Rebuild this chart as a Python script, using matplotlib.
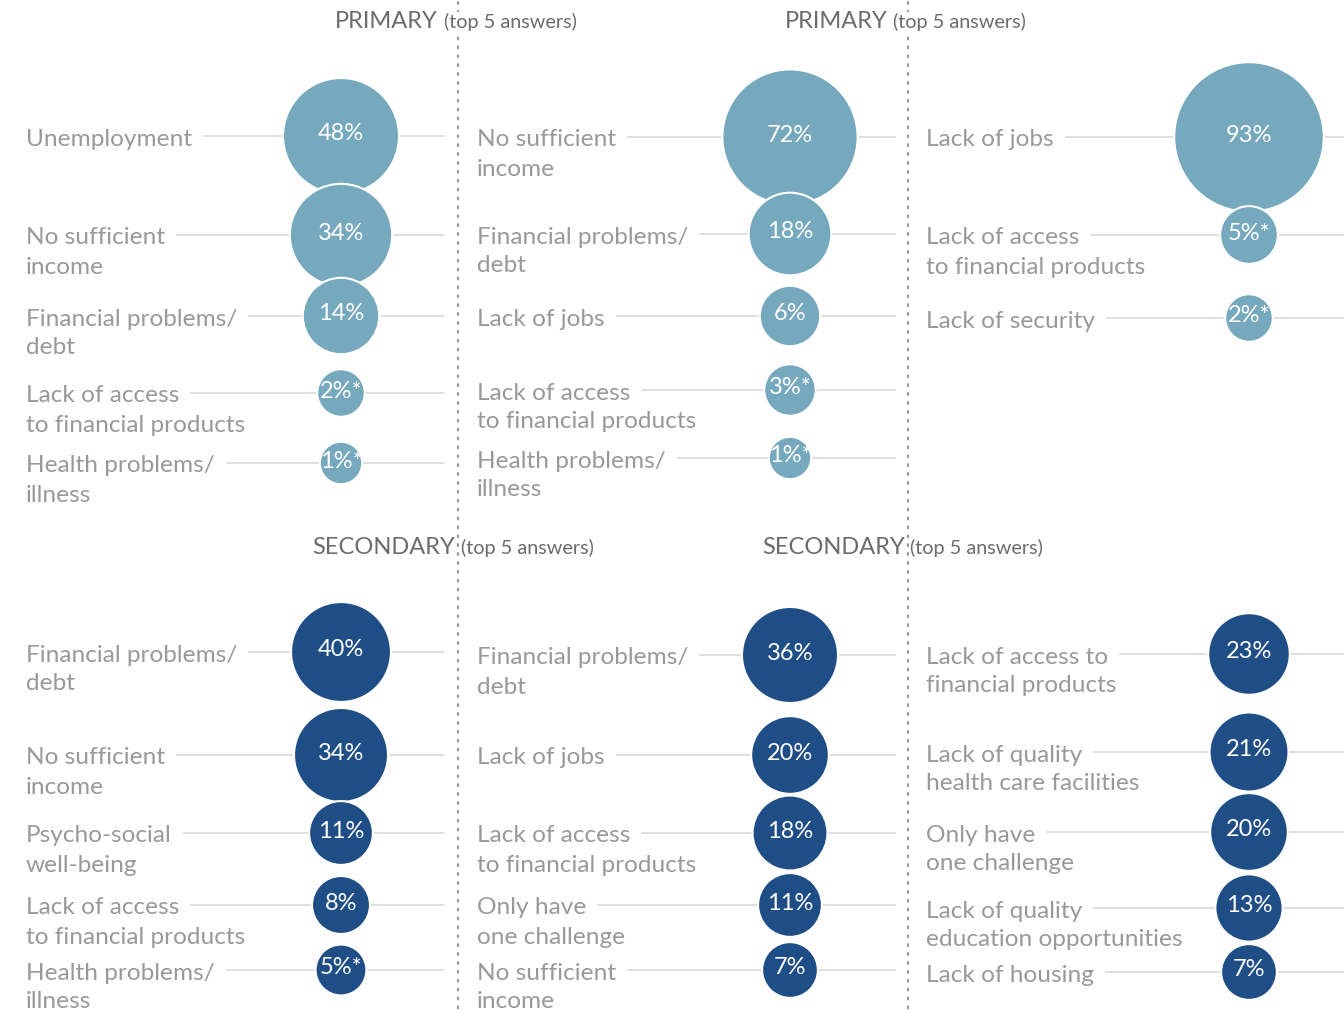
import matplotlib.pyplot as plt
from matplotlib.patches import Circle
import numpy as np

plt.rcParams['font.family'] = ['Lato', 'DejaVu Sans']

# --- data ---
p1_labels = ["Unemployment", "No sufficient\nincome", "Financial problems/\ndebt",
             "Lack of access\nto financial products", "Health problems/\nillness"]
p1_values = [48, 34, 14, 2, 1]
p1_star = [False, False, False, True, True]

p2_labels = ["No sufficient\nincome", "Financial problems/\ndebt", "Lack of jobs",
             "Lack of access\nto financial products", "Health problems/\nillness"]
p2_values = [72, 18, 6, 3, 1]
p2_star = [False, False, False, True, True]

p3_labels = ["Lack of jobs", "Lack of access\nto financial products", "Lack of security"]
p3_values = [93, 5, 2]
p3_star = [False, True, True]

s1_labels = ["Financial problems/\ndebt", "No sufficient\nincome", "Psycho-social\nwell-being",
             "Lack of access\nto financial products", "Health problems/\nillness"]
s1_values = [40, 34, 11, 8, 5]
s1_star = [False, False, False, False, True]

s2_labels = ["Financial problems/\ndebt", "Lack of jobs", "Lack of access\nto financial products",
             "Only have\none challenge", "No sufficient\nincome"]
s2_values = [36, 20, 18, 11, 7]
s2_star = [False] * 5

s3_labels = ["Lack of access to\nfinancial products", "Lack of quality\nhealth care facilities",
             "Only have\none challenge", "Lack of quality\neducation opportunities", "Lack of housing"]
s3_values = [23, 21, 20, 13, 7]
s3_star = [False] * 5

header_main = ["PRIMARY", "PRIMARY", "SECONDARY", "SECONDARY"]
header_sub = "(top 5 answers)"

# --- layout (pixels) ---
LIGHT = '#76a8be'
DARK = '#1f4e87'
LABEL_C = '#999999'
LINE_C = '#d9d9d9'

# bubble radius: r0 + k*sqrt(value)
TOP_R = (15, 6.2)
BOT_R = (12, 6.0)

panels = [
    # labels, values, star, color, label_x, circle_x, line_end, row y, radius scale
    (p1_labels, p1_values, p1_star, LIGHT, 26, 341, 443, [136, 235, 316, 393, 463], TOP_R),
    (p2_labels, p2_values, p2_star, LIGHT, 477, 790, 895, [137, 234, 316, 390, 458], TOP_R),
    (p3_labels, p3_values, p3_star, LIGHT, 926, 1249, 1344, [137, 235, 318], TOP_R),
    (s1_labels, s1_values, s1_star, DARK, 26, 341, 443, [652, 755, 833, 905, 970], BOT_R),
    (s2_labels, s2_values, s2_star, DARK, 477, 790, 895, [655, 755, 833, 905, 970], BOT_R),
    (s3_labels, s3_values, s3_star, DARK, 926, 1249, 1344, [654, 752, 832, 908, 972], BOT_R),
]
# x where main word ends, x where sub text starts, baseline y
headers = [(438, 444, 28), (888, 893, 28), (455, 461, 554), (905, 910, 554)]

fig = plt.figure(figsize=(13.44, 10.14), dpi=100)
ax = fig.add_axes([0, 0, 1, 1])
ax.set_xlim(0, 1344)
ax.set_ylim(1014, 0)
ax.axis('off')
renderer = fig.canvas.get_renderer()

# dotted separators
for x in [458, 908]:
    ax.plot([x, x], [2, 1012], color='#9a9a9a', lw=1.6, linestyle=(0, (0.8, 3.2)),
            dash_capstyle='round', zorder=1)

for (xr, xl, by), main in zip(headers, header_main):
    ax.text(xr, by, main, fontsize=17, color='#6b6b6b', ha='right', va='baseline',
            zorder=5, bbox=dict(fc='white', ec='none', pad=1))
    ax.text(xl, by, header_sub, fontsize=14.3, color='#6b6b6b', ha='left', va='baseline',
            zorder=5, bbox=dict(fc='white', ec='none', pad=1))

for labels, values, star, color, lx, cx, lend, rows, (r0, rk) in panels:
    for lab, v, st, cy in zip(labels, values, star, rows):
        lines = lab.split('\n')
        first = None
        for k, ln in enumerate(lines):
            t = ax.text(lx, cy + 3 + 29 * k, ln, fontsize=17.6, color=LABEL_C,
                        ha='left', va='center', zorder=3)
            if k == 0:
                first = t
        bb = first.get_window_extent(renderer)
        ax.plot([bb.x1 + 12, lend], [cy, cy], color=LINE_C, lw=1.2, zorder=2)
        r = r0 + rk * np.sqrt(v)
        ax.add_patch(Circle((cx, cy), r, facecolor=color, edgecolor='white', lw=1.5, zorder=4))
        txt = f"{v}%" + ("*" if st else "")
        ax.text(cx, cy - 2, txt, fontsize=17, color='white', ha='center', va='center', zorder=5)

fig.savefig('out.png', dpi=100)
